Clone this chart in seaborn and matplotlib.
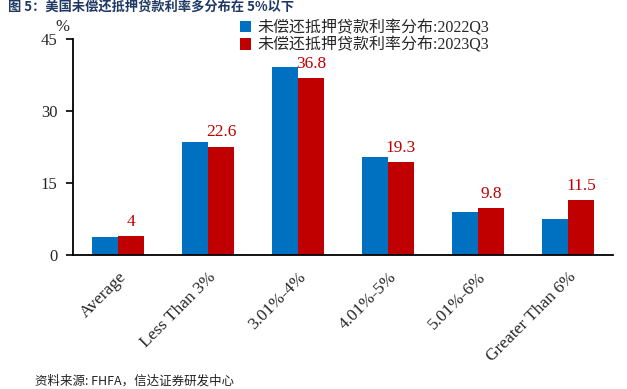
import numpy as np
import pandas as pd
import matplotlib
matplotlib.use("Agg")
import matplotlib.pyplot as plt
import seaborn as sns

categories = ["Average", "Less Than 3%", "3.01%-4%", "4.01%-5%", "5.01%-6%", "Greater Than 6%"]
series_names = ["未偿还抵押贷款利率分布:2022Q3", "未偿还抵押贷款利率分布:2023Q3"]
values_2022 = [3.8, 23.6, 39.2, 20.5, 9.0, 7.4]
values_2023 = [4.0, 22.6, 36.8, 19.3, 9.8, 11.5]
label_2023 = ["4", "22.6", "36.8", "19.3", "9.8", "11.5"]
yticks = [0, 15, 30, 45]

df = pd.DataFrame({
    "cat": categories * 2,
    "val": values_2022 + values_2023,
    "series": [series_names[0]] * 6 + [series_names[1]] * 6,
})

sns.set_style("white")
plt.rcParams['font.family'] = ['Liberation Serif', 'Noto Sans CJK SC']

fig = plt.figure(figsize=(6.27, 3.89), dpi=100)
ax = fig.add_axes([73/627, 1-255/389, 540/627, 216/389])

sns.barplot(data=df, x="cat", y="val", hue="series", order=categories,
            hue_order=series_names, palette=["#0070C0", "#C00000"],
            width=0.58, gap=0, ax=ax, legend=True, errorbar=None,
            saturation=1, edgecolor="none")

# labels on 2023 bars
for i, v in enumerate(values_2023):
    ax.text(i + 0.145, v + 1.3, label_2023[i], ha="center", va="bottom",
            color="#C00000", fontsize=12.5)

ax.set_xlim(-0.5, 5.5)
ax.set_ylim(0, 45)
ax.set_yticks(yticks)
ax.set_yticklabels([str(t) for t in yticks], fontsize=12)
ax.set_xticks(range(len(categories)))
ax.set_xticklabels(categories, rotation=45, ha="right", rotation_mode="anchor", fontsize=12.5)
ax.set_xticks(np.arange(-0.5, 6.0, 1.0), minor=True)
ax.tick_params(axis="x", which="major", length=0, pad=10)
ax.tick_params(axis="x", which="minor", length=5, width=1.2, direction="out", color="black")
ax.tick_params(axis="y", length=5, width=1.2, direction="out", color="black", left=True, pad=6)
ax.set_xlabel("")
ax.set_ylabel("")
for s in ["top", "right"]:
    ax.spines[s].set_visible(False)
for s in ["left", "bottom"]:
    ax.spines[s].set_color("black")
    ax.spines[s].set_linewidth(1.3)

fig.text(62/627, 1-27/389, "%", fontsize=12, ha="center", va="center")

leg = ax.legend(loc="upper left", bbox_to_anchor=(232/627, 1-12/389),
                bbox_transform=fig.transFigure, frameon=False, fontsize=11.5,
                handlelength=0.7, handleheight=0.7, handletextpad=0.4,
                labelspacing=0.1, borderpad=0)

fig.text(8/627, 1-0.5/389, "图 5：美国未偿还抵押贷款利率多分布在 5%以下", fontsize=9.5,
         fontweight="bold", color="#1F3864", ha="left", va="top",
         family=["Noto Sans CJK SC", "DejaVu Sans"])
fig.text(35/627, 1-381/389, "资料来源: FHFA，信达证券研发中心", fontsize=9,
         style="italic", color="#222222", ha="left", va="center",
         family=["Noto Sans CJK SC", "DejaVu Sans"])

fig.savefig("out.png", dpi=100)
